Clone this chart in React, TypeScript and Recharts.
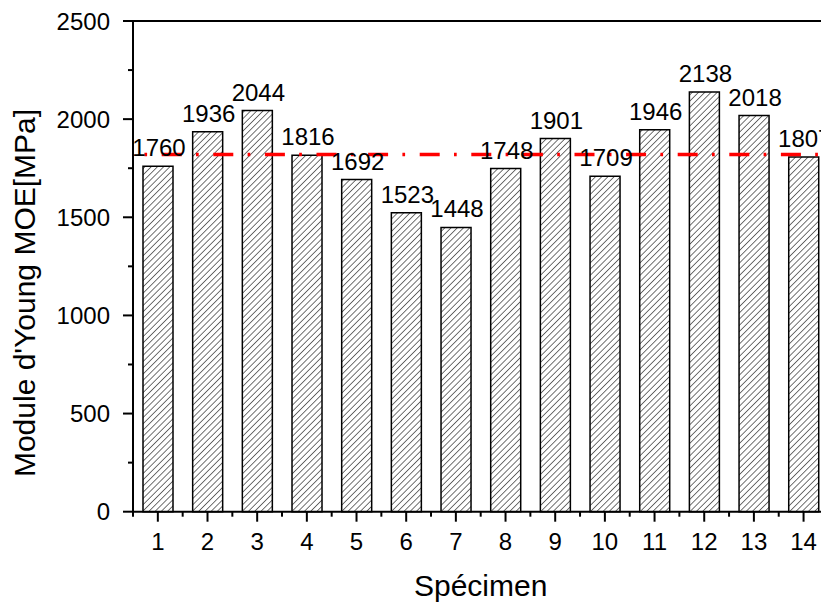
import { BarChart, Bar, XAxis, YAxis, ReferenceLine, LabelList, Label } from "recharts";

const SPECIMENS = ["1", "2", "3", "4", "5", "6", "7", "8", "9", "10", "11", "12", "13", "14"];
const MOE_VALUES = [1760, 1936, 2044, 1816, 1692, 1523, 1448, 1748, 1901, 1709, 1946, 2138, 2018, 1807];
const Y_TICKS = [0, 250, 500, 750, 1000, 1250, 1500, 1750, 2000, 2250, 2500];

const FONT = '"Liberation Sans", Arial, Helvetica, sans-serif';
const CHART_W = 845;
const CHART_H = 605;
const LEFT = 133;
const TOP = 21;
const RIGHT_EDGE = 828.4;
const BAND = (RIGHT_EDGE - LEFT) / SPECIMENS.length;

const data = SPECIMENS.map((s, i) => ({ specimen: s, moe: MOE_VALUES[i] }));
const mean = MOE_VALUES.reduce((a, b) => a + b, 0) / MOE_VALUES.length;

function BottomTick(props: any) {
  const { x, y, payload, index } = props;
  return (
    <g>
      <line x1={x} x2={x} y1={y} y2={y + 10} stroke="#000" strokeWidth={2} />
      <line x1={x + BAND / 2} x2={x + BAND / 2} y1={y} y2={y + 5} stroke="#000" strokeWidth={2} />
      {index === 0 && <line x1={x - BAND / 2} x2={x - BAND / 2} y1={y} y2={y + 5} stroke="#000" strokeWidth={2} />}
      <text x={x} y={y + 38} textAnchor="middle" fontFamily={FONT} fontSize={24} fill="#000">
        {payload.value}
      </text>
    </g>
  );
}

function TopTick(props: any) {
  const { x, y } = props;
  return (
    <g>
      <line x1={x} x2={x} y1={y} y2={y + 4} stroke="#000" strokeWidth={1.2} />
      <line x1={x + BAND / 2} x2={x + BAND / 2} y1={y} y2={y + 4} stroke="#000" strokeWidth={1.2} />
    </g>
  );
}

function LeftTick(props: any) {
  const { x, y, payload } = props;
  const major = payload.value % 500 === 0;
  return (
    <g>
      <line x1={x - (major ? 10 : 5)} x2={x} y1={y} y2={y} stroke="#000" strokeWidth={2} />
      {major && (
        <text x={x - 23} y={y} dy="0.36em" textAnchor="end" fontFamily={FONT} fontSize={24} fill="#000">
          {payload.value}
        </text>
      )}
    </g>
  );
}

function ValueLabel(props: any) {
  const { x, y, width, value } = props;
  return (
    <text x={x + width / 2 + 1} y={y - 10} textAnchor="middle" fontFamily={FONT} fontSize={24} fill="#000">
      {value}
    </text>
  );
}

export default function App() {
  return (
    <div style={{ position: "fixed", left: 0, top: 0, width: 821, height: 605, overflow: "hidden", background: "#fff" }}>
      <BarChart
        width={CHART_W}
        height={CHART_H}
        data={data}
        margin={{ top: TOP, right: CHART_W - RIGHT_EDGE, bottom: 0, left: 0 }}
      >
        <defs>
          <pattern id="hatch" width={4.4} height={4.4} patternUnits="userSpaceOnUse" patternTransform="rotate(45)">
            <line x1={0} y1={0} x2={0} y2={4.4} stroke="#000" strokeWidth={1.1} />
          </pattern>
        </defs>
        <XAxis
          dataKey="specimen"
          height={CHART_H - 511.7}
          tickSize={0}
          tickMargin={0}
          tickLine={false}
          axisLine={{ stroke: "#000", strokeWidth: 2 }}
          tick={<BottomTick />}
          interval={0}
        >
          <Label
            content={() => (
              <text x={(LEFT + RIGHT_EDGE) / 2} y={596} textAnchor="middle" fontFamily={FONT} fontSize={30} fill="#000">
                Spécimen
              </text>
            )}
          />
        </XAxis>
        <XAxis
          xAxisId="top"
          dataKey="specimen"
          orientation="top"
          height={0}
          tickSize={0}
          tickMargin={0}
          tickLine={false}
          axisLine={false}
          tick={<TopTick />}
          interval={0}
        />
        <YAxis
          width={LEFT}
          domain={[0, 2500]}
          ticks={Y_TICKS}
          interval={0}
          tickSize={0}
          tickMargin={0}
          tickLine={false}
          axisLine={{ stroke: "#000", strokeWidth: 2 }}
          tick={<LeftTick />}
        >
          <Label
            content={() => (
              <text
                x={35}
                y={293}
                transform="rotate(-90, 35, 293)"
                textAnchor="middle"
                fontFamily={FONT}
                fontSize={30}
                fill="#000"
              >
                Module d'Young MOE[MPa]
              </text>
            )}
          />
        </YAxis>
        <ReferenceLine y={2500} stroke="#000" strokeWidth={2} />
        <Bar dataKey="moe" barSize={30} fill="url(#hatch)" stroke="#000" strokeWidth={1.5} isAnimationActive={false}>
          <LabelList dataKey="moe" content={<ValueLabel />} />
        </Bar>
        <ReferenceLine
          y={mean}
          stroke="#ff0000"
          strokeWidth={3.5}
          strokeDasharray="20 14.3 2.7 14.6"
          strokeDashoffset={22.9}
        />
      </BarChart>
    </div>
  );
}
